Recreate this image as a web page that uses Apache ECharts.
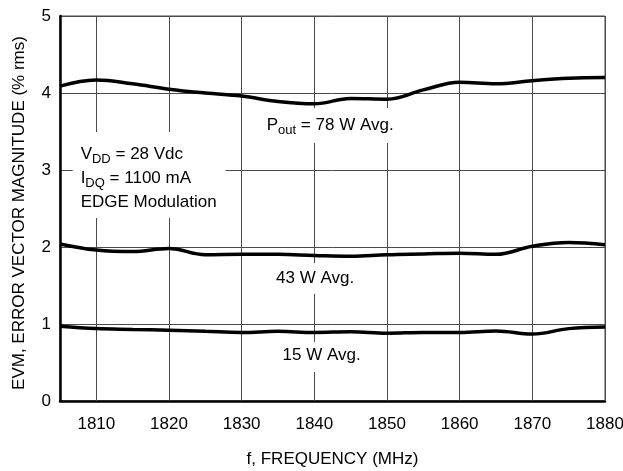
<!DOCTYPE html>
<html>
<head>
<meta charset="utf-8">
<script src="https://cdn.jsdelivr.net/npm/echarts@6/dist/echarts.min.js"></script>
<style>
  html, body { margin: 0; padding: 0; background: #fff; }
  #chart { width: 623px; height: 471px; }
</style>
</head>
<body>
<div id="chart"></div>
<script>
// Frequency sweep (MHz)
const freqs = [1805, 1810, 1815, 1820, 1825, 1830, 1835, 1840, 1845, 1850, 1855, 1860, 1865, 1870, 1875, 1880];
// EVM (% rms) at each average output power
const evm78 = [4.09, 4.17, 4.12, 4.05, 4.00, 3.96, 3.89, 3.86, 3.93, 3.92, 4.04, 4.14, 4.12, 4.16, 4.19, 4.20];
const evm43 = [2.04, 1.96, 1.94, 1.98, 1.90, 1.905, 1.905, 1.89, 1.88, 1.90, 1.91, 1.92, 1.905, 2.01, 2.06, 2.03];
const evm15 = [0.97, 0.94, 0.93, 0.92, 0.905, 0.89, 0.905, 0.89, 0.90, 0.88, 0.89, 0.89, 0.91, 0.87, 0.94, 0.96];
// Vertical grid positions and labelled frequencies
const freqGrid = [1810, 1820, 1830, 1840, 1850, 1860, 1870, 1880];

const FONT = "'Liberation Sans', Arial, sans-serif";
const INK = '#000';
const GRID = '#4a4a4a';

const pairs = vals => freqs.map((f, i) => [f, vals[i]]);

const curve = (name, vals) => ({
  name,
  type: 'line',
  data: pairs(vals),
  smooth: 0.4,
  showSymbol: false,
  silent: true,
  lineStyle: { color: INK, width: 3.5 },
  z: 5
});

const chart = echarts.init(document.getElementById('chart'), null, { renderer: 'canvas' });

chart.setOption({
  animation: false,
  backgroundColor: '#fff',
  grid: {
    left: 60, top: 16, right: 18, bottom: 70,
    containLabel: false,
    outerBoundsMode: 'none',
    show: true, borderColor: GRID, borderWidth: 1, backgroundColor: 'transparent'
  },
  xAxis: {
    type: 'value',
    min: 1805, max: 1880, interval: 5,
    name: 'f, FREQUENCY (MHz)',
    nameLocation: 'middle',
    nameGap: 50,
    nameTextStyle: { fontFamily: FONT, fontSize: 17, color: INK },
    axisLine: { show: true, onZero: false, lineStyle: { color: INK, width: 2.5 } },
    axisTick: { show: false },
    splitLine: { show: false },
    axisLabel: {
      margin: 15,
      fontFamily: FONT, fontSize: 17, color: INK,
      formatter: v => (freqGrid.indexOf(v) >= 0 ? String(v) : '')
    }
  },
  yAxis: {
    type: 'value',
    min: 0, max: 5, interval: 1,
    name: 'EVM, ERROR VECTOR MAGNITUDE (% rms)',
    nameLocation: 'middle',
    nameGap: 32,
    nameTextStyle: { fontFamily: FONT, fontSize: 17, color: INK, padding: [0, 9, 0, 0] },
    axisLine: { show: true, lineStyle: { color: INK, width: 2.5 } },
    axisTick: { show: false },
    splitLine: { show: true, lineStyle: { color: GRID, width: 1 } },
    axisLabel: { margin: 9, fontFamily: FONT, fontSize: 17, color: INK }
  },
  series: [
    {
      name: 'grid',
      type: 'line',
      data: [],
      silent: true,
      z: 1,
      markLine: {
        silent: true,
        symbol: 'none',
        label: { show: false },
        lineStyle: { color: GRID, width: 1, type: 'solid' },
        data: freqGrid.map(f => ({ xAxis: f }))
      }
    },
    curve('78 W', evm78),
    curve('43 W', evm43),
    curve('15 W', evm15)
  ]
});

// Text annotations anchored at data coordinates, on white boxes that break the grid
const base = { fontFamily: FONT, fontSize: 17, lineHeight: 24, color: INK };
const sub = { fontFamily: FONT, fontSize: 13, lineHeight: 13, padding: [11, 0, 0, 0], color: INK };

const notes = [
  { at: [1842.18, 3.578], align: 'center', padding: [5, 6, 6, 6],
    text: '{m|P}{s|out}{m| = 78 W Avg.}' },
  { at: [1840.1, 1.591], align: 'center', padding: [3, 6, 4, 6],
    text: '{m|43 W Avg.}' },
  { at: [1841.0, 0.571], align: 'center', padding: [1, 6, 5, 6],
    text: '{m|15 W Avg.}' },
  { at: [1806.74, 2.935], align: 'left', padding: [10, 9, 4, 8],
    text: '{m|V}{s|DD}{m| = 28 Vdc}\n{m|I}{s|DQ}{m| = 1100 mA}\n{m|EDGE Modulation}' }
];

chart.setOption({
  graphic: notes.map(n => {
    const p = chart.convertToPixel({ gridIndex: 0 }, n.at);
    return {
      type: 'text',
      x: p[0], y: p[1],
      z: 100,
      silent: true,
      style: {
        text: n.text,
        rich: { m: base, s: sub },
        align: n.align,
        verticalAlign: 'middle',
        backgroundColor: '#fff',
        padding: n.padding,
        fill: INK
      }
    };
  })
});
</script>
</body>
</html>
